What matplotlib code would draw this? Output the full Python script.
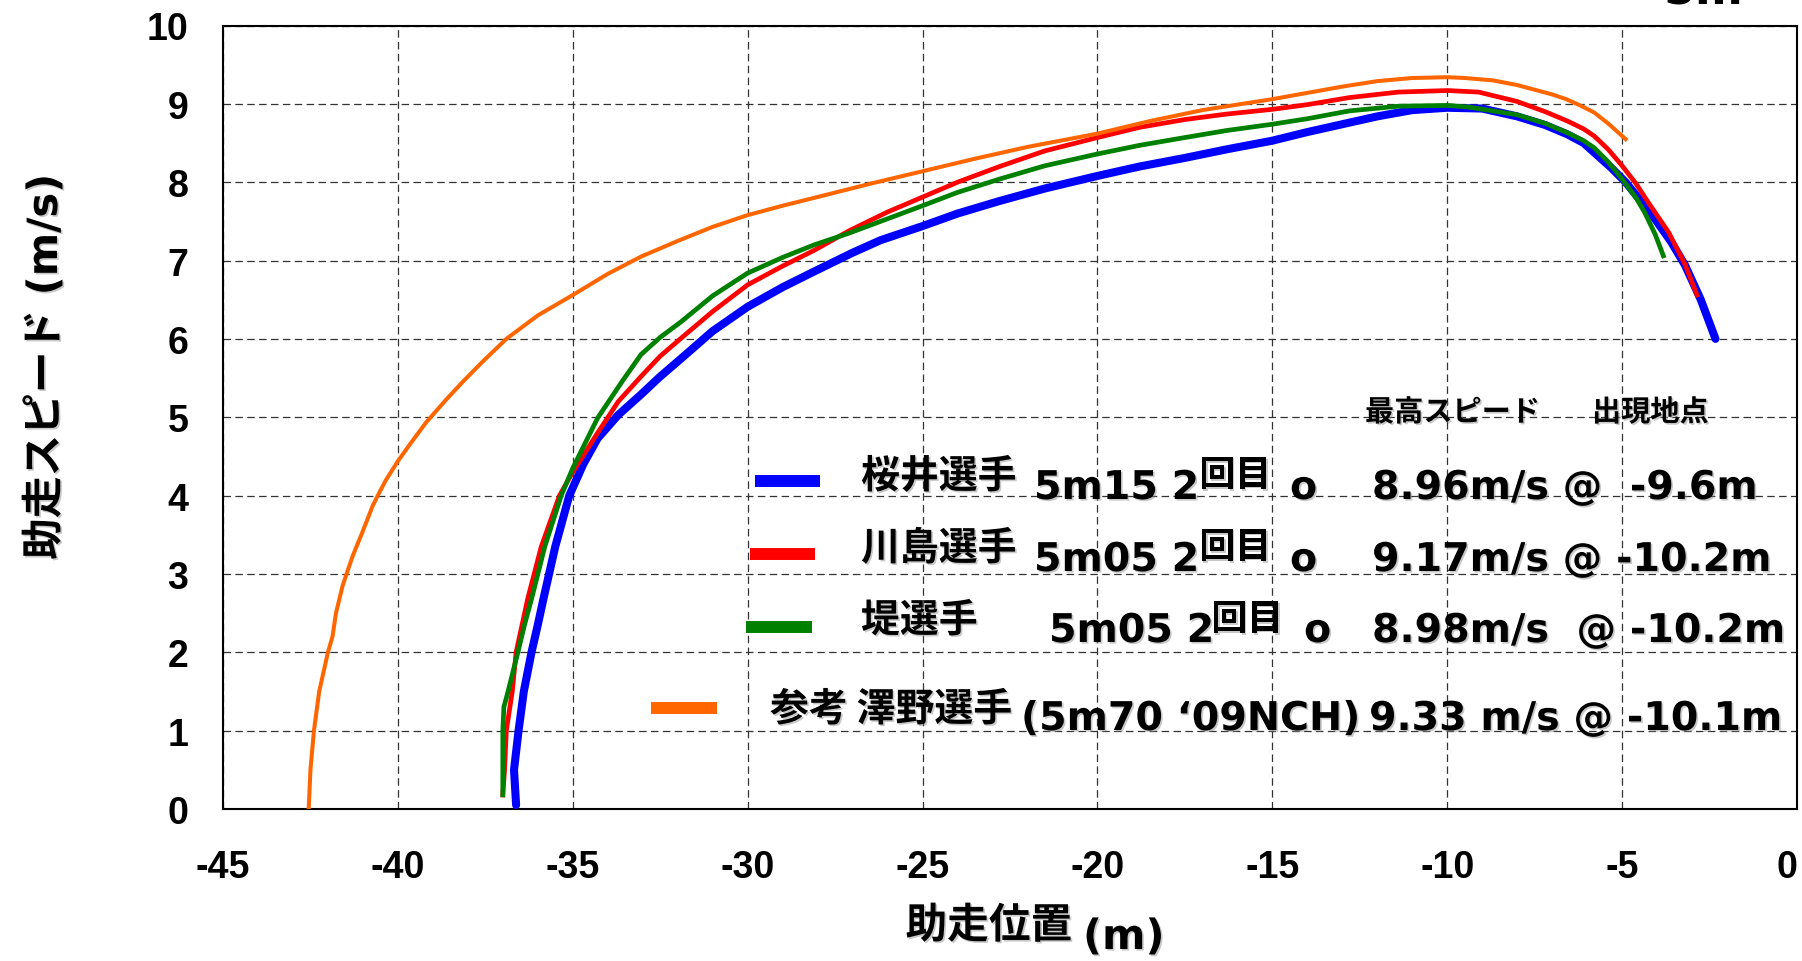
import matplotlib
matplotlib.use("Agg")
import matplotlib.pyplot as plt
import matplotlib.patheffects as pe
from matplotlib.lines import Line2D

plt.rcParams['axes.unicode_minus'] = False

# ---------------- data ----------------
x_ticks = [-45, -40, -35, -30, -25, -20, -15, -10, -5, 0]
x_tick_labels = ['-45', '-40', '-35', '-30', '-25', '-20', '-15', '-10', '-5', '0']
y_ticks = [0, 1, 2, 3, 4, 5, 6, 7, 8, 9, 10]
y_tick_labels = ['0', '1', '2', '3', '4', '5', '6', '7', '8', '9', '10']

sakurai_x = [-36.62, -36.68, -36.55, -36.4, -36.18, -36.0, -35.84, -35.5, -35.1, -34.7,
             -34.29, -33.7, -33.05, -32.5, -31.9, -31.0, -30.0, -29.0, -28.1, -27.0,
             -26.2, -25.0, -24.0, -22.8, -21.5, -20.0, -18.8, -17.5, -16.3, -15.0,
             -14.0, -13.0, -12.0, -11.0, -10.0, -9.0, -8.0, -7.2, -6.56, -6.1,
             -5.8, -5.3, -4.9, -4.5, -4.06, -3.6, -3.2, -2.75, -2.33]
sakurai_y = [0.05, 0.5, 1.0, 1.5, 2.0, 2.35, 2.68, 3.35, 4.0, 4.4,
             4.73, 5.03, 5.29, 5.52, 5.75, 6.1, 6.41, 6.66, 6.86, 7.1,
             7.26, 7.44, 7.6, 7.76, 7.92, 8.08, 8.2, 8.31, 8.42, 8.53,
             8.64, 8.74, 8.84, 8.92, 8.95, 8.94, 8.84, 8.73, 8.61, 8.5,
             8.38, 8.18, 8.0, 7.78, 7.53, 7.24, 6.94, 6.5, 6.0]

kawashima_x = [-37.0, -36.95, -36.9, -36.73, -36.62, -36.45, -36.29, -35.9, -35.38, -35.0,
               -34.29, -33.7, -33.05, -32.5, -31.9, -31.0, -30.0, -29.0, -28.1, -27.1,
               -26.0, -25.0, -24.0, -22.8, -21.5, -20.0, -18.8, -17.5, -16.3, -15.0,
               -14.0, -12.8, -11.4, -10.0, -9.1, -8.0, -7.2, -6.56, -6.1, -5.8,
               -5.4, -5.0, -4.6, -4.25, -3.67, -3.19, -2.86]
kawashima_y = [0.18, 0.5, 1.0, 1.5, 2.0, 2.35, 2.68, 3.35, 4.0, 4.3,
               4.8, 5.2, 5.52, 5.78, 6.01, 6.35, 6.69, 6.93, 7.13, 7.38,
               7.62, 7.81, 8.0, 8.2, 8.4, 8.57, 8.7, 8.8, 8.87, 8.93,
               8.99, 9.08, 9.15, 9.17, 9.15, 9.03, 8.9, 8.78, 8.68, 8.59,
               8.42, 8.21, 7.98, 7.74, 7.36, 6.94, 6.56]

tsutsumi_x = [-37.0, -37.0, -36.97, -36.85, -36.57, -36.38, -36.18, -35.8, -35.33, -35.0,
              -34.29, -33.6, -33.05, -32.5, -31.9, -31.0, -30.0, -29.0, -28.1, -27.1,
              -26.2, -25.0, -24.0, -22.8, -21.5, -20.0, -18.8, -17.5, -16.3, -15.0,
              -14.0, -12.8, -11.4, -10.0, -9.4, -8.0, -7.2, -6.56, -6.1, -5.8,
              -5.4, -5.0, -4.6, -4.35, -4.05, -3.82]
tsutsumi_y = [0.18, 1.0, 1.3, 1.5, 2.0, 2.35, 2.68, 3.35, 4.0, 4.35,
              4.99, 5.45, 5.8, 6.02, 6.22, 6.55, 6.84, 7.04, 7.2, 7.35,
              7.5, 7.7, 7.87, 8.04, 8.21, 8.36, 8.47, 8.57, 8.66, 8.74,
              8.81, 8.91, 8.97, 8.98, 8.96, 8.86, 8.75, 8.63, 8.53, 8.44,
              8.26, 8.04, 7.8, 7.61, 7.33, 7.06]

sawano_x = [-42.55, -42.5, -42.4, -42.25, -42.0, -41.87, -41.77, -41.58, -41.3, -41.0,
            -40.72, -40.53, -40.34, -40.0, -39.68, -39.2, -38.63, -38.15, -37.6, -36.9,
            -36.0, -35.0, -34.0, -33.05, -32.0, -31.0, -30.0, -29.0, -28.1, -26.5,
            -25.0, -23.5, -22.0, -20.0, -18.5, -17.0, -15.0, -14.0, -13.0, -12.0,
            -11.0, -10.0, -9.5, -8.7, -8.0, -7.5, -7.0, -6.6, -6.2, -5.8,
            -5.4, -4.9]
sawano_y = [0.0, 0.5, 1.0, 1.5, 2.0, 2.2, 2.5, 2.85, 3.22, 3.55,
            3.87, 4.04, 4.2, 4.44, 4.64, 4.93, 5.22, 5.45, 5.7, 6.0,
            6.3, 6.56, 6.83, 7.05, 7.25, 7.43, 7.58, 7.7, 7.8, 7.98,
            8.14, 8.3, 8.45, 8.62, 8.78, 8.92, 9.06, 9.14, 9.22, 9.29,
            9.33, 9.34, 9.33, 9.3, 9.24, 9.18, 9.12, 9.06, 8.98, 8.89,
            8.75, 8.55]

legend_names = ['桜井選手', '川島選手', '堤選手', '参考 澤野選手']
legend_marks = ['5m15 2', '5m05 2', '5m05 2', '(5m70 ‘09NCH)']
legend_speeds = ['8.96m/s @  -9.6m', '9.17m/s @ -10.2m', '8.98m/s  @ -10.2m', '9.33 m/s @ -10.1m']
colors = ['#0000FF', '#FF0000', '#008000', '#FF6600']

# ---------------- figure ----------------
W, H = 1802, 962
fig = plt.figure(figsize=(W / 100, H / 100), dpi=100)
fig.patch.set_facecolor('white')

def fx(X):
    return X / W

def fy(Y):
    return 1 - Y / H

ax = fig.add_axes([fx(223), fy(810), fx(1797) - fx(223), fy(26.5) - fy(810)])
ax.set_xlim(-45, 0)
ax.set_ylim(0, 10)

ax.plot(sakurai_x, sakurai_y, color=colors[0], lw=5.8, solid_joinstyle='round',
        solid_capstyle='round', zorder=3)
ax.plot(kawashima_x, kawashima_y, color=colors[1], lw=3.4, solid_joinstyle='round', zorder=4)
ax.plot(tsutsumi_x, tsutsumi_y, color=colors[2], lw=3.4, solid_joinstyle='round', zorder=5)
ax.plot(sawano_x, sawano_y, color=colors[3], lw=2.9, solid_joinstyle='round', zorder=6)

ax.set_xticks(x_ticks)
ax.set_xticklabels(x_tick_labels)
ax.set_yticks(y_ticks)
ax.set_yticklabels(y_tick_labels)
ax.tick_params(axis='both', length=0)
ax.tick_params(axis='y', pad=25)
ax.tick_params(axis='x', pad=29)
for lab in ax.get_xticklabels() + ax.get_yticklabels():
    lab.set_fontfamily('Liberation Sans')
    lab.set_fontweight('bold')
    lab.set_fontsize(27)
ax.get_xticklabels()[-1].set_horizontalalignment('right')

ax.grid(True, color='#333333', linestyle=(0, (6, 3.5)), linewidth=0.9)
ax.set_axisbelow(True)
for s in ax.spines.values():
    s.set_linewidth(1.5)
    s.set_color('black')

shadow = [pe.withSimplePatchShadow(offset=(1.2, -1.2), shadow_rgbFace='#888888', alpha=0.45)]
mixed = ['DejaVu Sans', 'Noto Sans CJK JP']
cjk = ['Noto Sans CJK JP', 'DejaVu Sans']

# axis labels
fig.text(fx(1072), fy(927), '助走位置', ha='right', va='center', fontsize=30,
         fontweight='bold', family=cjk, path_effects=shadow)
fig.text(fx(1083), fy(950), '(m)', ha='left', va='baseline', fontsize=30,
         fontweight='bold', family='DejaVu Sans', path_effects=shadow)
fig.text(fx(45), fy(368), '助走スピード (m/s)', ha='center', va='center', rotation=90,
         fontsize=30, fontweight='bold', family=mixed, path_effects=shadow)

# clipped "5m" at top right
fig.text(fx(1703), fy(4), '5m', ha='center', va='baseline', fontsize=33,
         fontweight='bold', family='DejaVu Sans')

# legend header
fig.text(fx(1365), fy(422), '最高スピード', ha='left', va='baseline', fontsize=21,
         fontweight='bold', family=cjk, path_effects=shadow)
fig.text(fx(1592), fy(422), '出現地点', ha='left', va='baseline', fontsize=21,
         fontweight='bold', family=cjk, path_effects=shadow)

# legend rows (layout in pixels)
rows = [
    dict(sw=(755, 820, 482), name=(861, 489), mark=(1034, 500), sup=(1199, 487), o=(1290, 500), spd=(1372, 500)),
    dict(sw=(750, 815, 555), name=(861, 561), mark=(1034, 572), sup=(1199, 559), o=(1290, 572), spd=(1372, 572)),
    dict(sw=(746, 812, 628), name=(861, 633), mark=(1049, 643), sup=(1211, 631), o=(1304, 643), spd=(1372, 643)),
    dict(sw=(651, 717, 709), name=(770, 722), mark=(1021, 731), sup=None, o=None, spd=(1369, 731)),
]
for i, r in enumerate(rows):
    x0, x1, ys = r['sw']
    fig.add_artist(Line2D([fx(x0), fx(x1)], [fy(ys), fy(ys)], color=colors[i], lw=8.6,
                          solid_capstyle='butt', transform=fig.transFigure))
    fig.text(fx(r['name'][0]), fy(r['name'][1]), legend_names[i], ha='left', va='baseline',
             fontsize=28, fontweight='bold', family=cjk, path_effects=shadow)
    fig.text(fx(r['mark'][0]), fy(r['mark'][1]), legend_marks[i], ha='left', va='baseline',
             fontsize=28.5, fontweight='bold', family=mixed, path_effects=shadow)
    if r['sup'] is not None:
        fig.text(fx(r['sup'][0]), fy(r['sup'][1]), '回目', ha='left', va='baseline',
                 fontsize=26, fontweight='bold', family=cjk, path_effects=shadow)
        fig.text(fx(r['o'][0]), fy(r['o'][1]), 'o', ha='left', va='baseline',
                 fontsize=28.5, fontweight='bold', family='DejaVu Sans', path_effects=shadow)
    fig.text(fx(r['spd'][0]), fy(r['spd'][1]), legend_speeds[i], ha='left', va='baseline',
             fontsize=28.5, fontweight='bold', family='DejaVu Sans', path_effects=shadow)

fig.savefig('out.png', dpi=100, facecolor='white')
